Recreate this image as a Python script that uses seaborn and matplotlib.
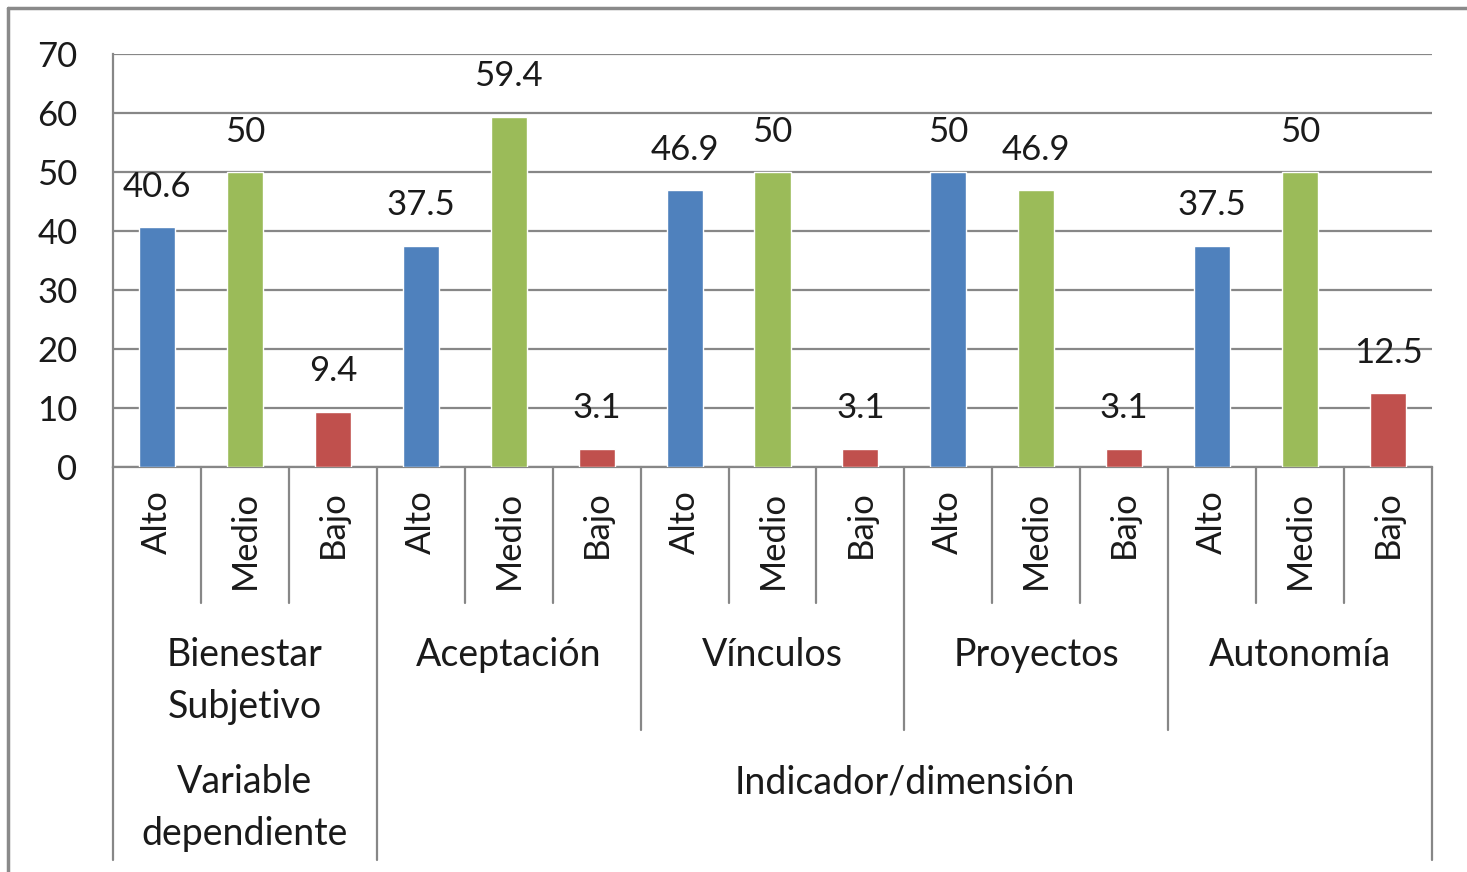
import pandas as pd
import seaborn as sns
import matplotlib.pyplot as plt
from matplotlib.lines import Line2D
import matplotlib.transforms as mtransforms

# datos
grupos = ["Bienestar\nSubjetivo", "Aceptación", "Vínculos", "Proyectos", "Autonomía"]
niveles = ["Alto", "Medio", "Bajo"]
alto = [40.6, 37.5, 46.9, 50, 37.5]
medio = [50, 59.4, 50, 46.9, 50]
bajo = [9.4, 3.1, 3.1, 3.1, 12.5]
tipos = ["Variable\ndependiente", "Indicador/dimensión"]

rows = []
for i, g in enumerate(grupos):
    for n, v in zip(niveles, [alto[i], medio[i], bajo[i]]):
        rows.append({"cat": f"{i}-{n}", "grupo": g, "nivel": n, "valor": v})
df = pd.DataFrame(rows)

sns.set_style("white")
plt.rcParams["font.family"] = ["Lato", "DejaVu Sans"]
txt = "#1a1a1a"
gris = "#878787"

fig = plt.figure(figsize=(14.67, 8.72), dpi=100)
ax = fig.add_axes([113/1467, 1 - 467/872, (1432 - 113)/1467, (467 - 54)/872])

palette = {"Alto": "#4F81BD", "Medio": "#9BBB59", "Bajo": "#C0504D"}
sns.barplot(data=df, x="cat", y="valor", hue="nivel", palette=palette,
            dodge=False, width=0.41, legend=False, ax=ax, zorder=3, saturation=1)

ax.set_ylim(0, 70)
ax.set_xlim(-0.5, len(df) - 0.5)
ax.set_yticks(range(0, 71, 10))
ax.yaxis.grid(True, color=gris, linewidth=1.6, zorder=0)
ax.set_axisbelow(True)
for s in ["top", "right"]:
    ax.spines[s].set_visible(False)
for s in ["left", "bottom"]:
    ax.spines[s].set_color(gris)
    ax.spines[s].set_linewidth(1.6)

ax.tick_params(axis="y", length=9.5, width=1.6, color=gris, labelsize=25,
               labelcolor=txt, pad=16)
ax.tick_params(axis="x", length=0, labelsize=25, labelcolor=txt, pad=17)
ax.set_xticks(range(len(df)))
ax.set_xticklabels(df["nivel"], rotation=90, va="top")
ax.set_xlabel("")
ax.set_ylabel("")

# etiquetas de valores
for i, v in enumerate(df["valor"]):
    ax.annotate(f"{v:g}", (i, v), xytext=(0, 29), textcoords="offset points",
                ha="center", va="center", fontsize=25, color=txt, zorder=5)

# lineas de separacion de categorias
tr = mtransforms.blended_transform_factory(ax.transData, ax.transAxes)
h = 413
for b in range(len(df) + 1):
    x = b - 0.5
    if b in (0, 3, len(df)):
        y1 = -393 / h
    elif b % 3 == 0:
        y1 = -263 / h
    else:
        y1 = -136 / h
    ax.plot([x, x], [0, y1], color=gris, lw=1.6, transform=tr, clip_on=False)

# nombres de grupos
for i, g in enumerate(grupos):
    ax.text(3 * i + 1, -170 / h, g, transform=tr, ha="center", va="top",
            fontsize=27, color=txt, linespacing=1.55)

ax.text(1, -297 / h, tipos[0], transform=tr, ha="center", va="top",
        fontsize=27, color=txt, linespacing=1.55)
ax.text(8.5, -297 / h, tipos[1], transform=tr, ha="center", va="top",
        fontsize=27, color=txt, linespacing=1.55)

# marco exterior
fig.add_artist(Line2D([8/1467, 8/1467], [0, 1 - 8/872], color="#8a8a8a", lw=2.5,
                      transform=fig.transFigure))
fig.add_artist(Line2D([8/1467, 1], [1 - 8/872, 1 - 8/872], color="#8a8a8a", lw=2.5,
                      transform=fig.transFigure))

fig.savefig("out.png", dpi=100)
